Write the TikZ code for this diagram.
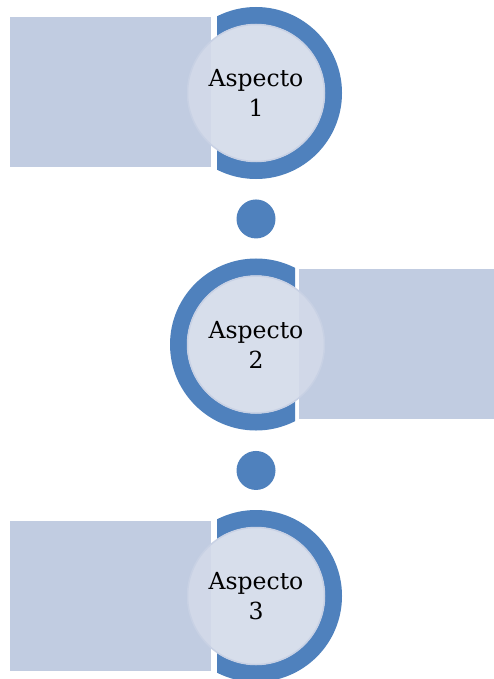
\documentclass[tikz,border=0pt]{standalone}
\usepackage{fontspec}
\setmainfont{DejaVu Serif}
\usepackage{tikz}
\usetikzlibrary{positioning,backgrounds}
\definecolor{arcblue}{HTML}{4F81BD}
\definecolor{boxblue}{HTML}{C1CCE1}
\definecolor{hubfill}{HTML}{D3DAE9}
\definecolor{hubrim}{HTML}{C8D1E4}

\begin{document}
\begin{tikzpicture}[x=1pt,y=-1pt,
    box/.style={fill=boxblue, inner sep=0pt, minimum width=201pt, minimum height=150pt},
    hub/.style={circle, fill=hubfill, fill opacity=0.9, text opacity=1, draw=hubrim, line width=1.5pt, minimum size=137pt, inner sep=0pt, align=center, font=\fontsize{23.5}{30}\selectfont},
    dot/.style={circle, fill=arcblue, minimum size=39pt, inner sep=0pt},
    ring/.style={draw=arcblue, line width=17pt}]
\useasboundingbox (0,0) rectangle (494,679);
    \coordinate (C1) at (256,93);
    \coordinate (C2) at (256,344.5);
    \coordinate (C3) at (256,596);
    \node (Box1) [box] at (110.5,92) {};
    \node (Box2) [box] at (399.5,344) {};
    \node (Box3) [box] at (110.5,596) {};
    \begin{scope}
      \clip (217,0) rectangle (494,250);
      \draw[ring] (C1) circle[radius=77.5pt];
    \end{scope}
    \begin{scope}
      \clip (0,250) rectangle (295,440);
      \draw[ring] (C2) circle[radius=77.5pt];
    \end{scope}
    \begin{scope}
      \clip (217,500) rectangle (494,679);
      \draw[ring] (C3) circle[radius=77.5pt];
    \end{scope}
    \node (Hub1) [hub] at (C1) {Aspecto\\1};
    \node (Hub2) [hub] at (C2) {Aspecto\\2};
    \node (Hub3) [hub] at (C3) {Aspecto\\3};
    \node (Dot1) [dot, below=37pt of Hub1] {};
    \node (Dot2) [dot, below=37pt of Hub2] {};
\end{tikzpicture}
\end{document}
